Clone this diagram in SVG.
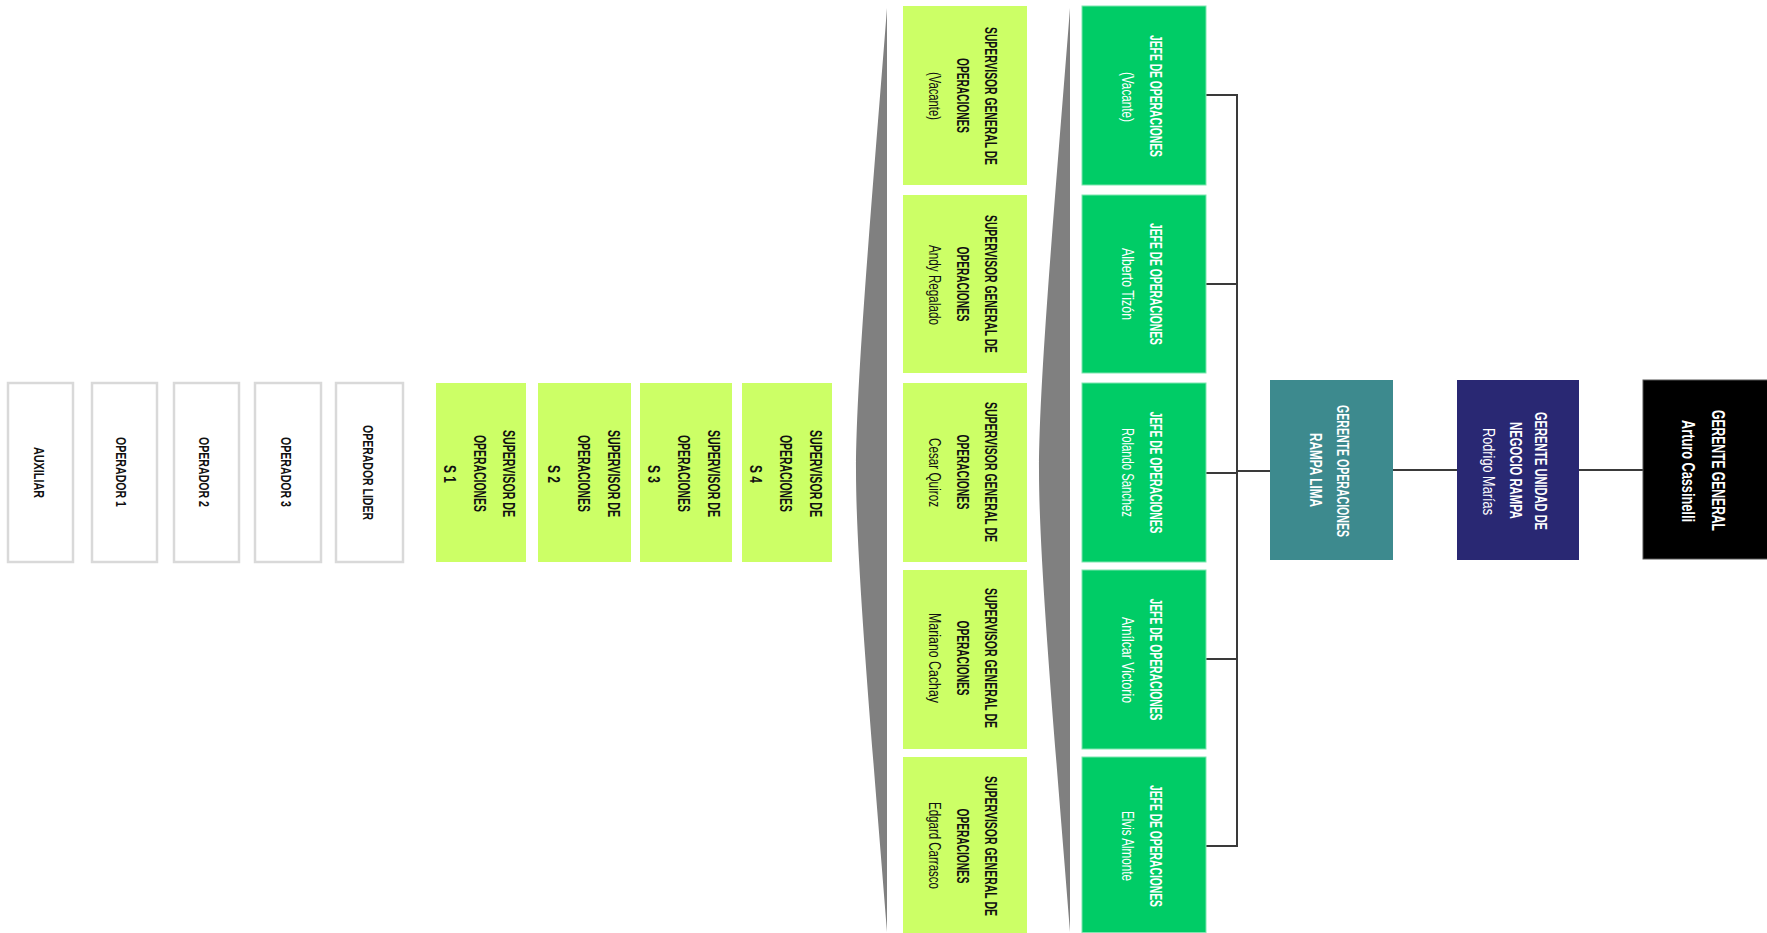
<svg xmlns="http://www.w3.org/2000/svg" width="1767" height="933" viewBox="0 0 1767 933">
<style>
  text { font-family: "Liberation Sans", Arial, sans-serif; text-anchor: middle; dominant-baseline: central; }
  .op rect { fill: #ffffff; stroke: #d9d9d9; stroke-width: 2.5; }
  .op text { fill: #111111; font-weight: bold; font-size: 15px; }
  .lg rect { fill: #ccff66; }
  .lg text { fill: #111111; font-size: 16px; }
  .gr rect { fill: #00cc66; stroke: #7fe6b0; stroke-width: 1; }
  .gr text { fill: #ffffff; font-size: 16px; }
  .tl rect { fill: #3d8a8e; }
  .nv rect { fill: #292873; }
  .bk rect { fill: #000000; stroke: #555555; stroke-width: 1; }
  .tl text, .nv text, .bk text { fill: #ffffff; font-size: 16px; }
  .b { font-weight: bold; }
  .wedge { fill: #808080; }
  .conn path { fill: none; stroke: #3a3a3a; stroke-width: 2; }
</style>
<rect x="0" y="0" width="1767" height="933" fill="#ffffff"/>

<g id="wedges">
  <path class="wedge" d="M887 8 C872 200 856 380 856 471 C856 562 872 742 887 932 Z"/>
  <path class="wedge" d="M1070 8 C1055 200 1039 380 1039 471 C1039 562 1055 742 1070 932 Z"/>
</g>

<g id="connectors" class="conn">
  <path d="M1206 95 H1237"/>
  <path d="M1206 284 H1237"/>
  <path d="M1206 473 H1237"/>
  <path d="M1206 659 H1237"/>
  <path d="M1206 846 H1237"/>
  <path d="M1237 94 V847" stroke-width="2.5"/>
  <path d="M1237 471 H1271"/>
  <path d="M1393 470 H1457"/>
  <path d="M1579 470 H1643"/>
</g>

<!-- Operators -->
<g id="auxiliar" class="op">
  <rect x="8" y="383" width="65" height="179"/>
  <text transform="translate(39,472.5) rotate(90)" textLength="51" lengthAdjust="spacingAndGlyphs">AUXILIAR</text>
</g>
<g id="operador1" class="op">
  <rect x="92" y="383" width="65" height="179"/>
  <text transform="translate(121,472) rotate(90)" textLength="70" lengthAdjust="spacingAndGlyphs">OPERADOR 1</text>
</g>
<g id="operador2" class="op">
  <rect x="174" y="383" width="65" height="179"/>
  <text transform="translate(204,472) rotate(90)" textLength="70" lengthAdjust="spacingAndGlyphs">OPERADOR 2</text>
</g>
<g id="operador3" class="op">
  <rect x="255" y="383" width="66" height="179"/>
  <text transform="translate(286,472) rotate(90)" textLength="70" lengthAdjust="spacingAndGlyphs">OPERADOR 3</text>
</g>
<g id="operador-lider" class="op">
  <rect x="336" y="383" width="67" height="179"/>
  <text transform="translate(368,472.5) rotate(90)" textLength="95" lengthAdjust="spacingAndGlyphs">OPERADOR LIDER</text>
</g>

<!-- Supervisores S -->
<g id="sup-s1" class="lg">
  <rect x="436" y="383" width="90" height="179"/>
  <text class="b" transform="translate(508,473.5) rotate(90)" textLength="87" lengthAdjust="spacingAndGlyphs">SUPERVISOR DE</text>
  <text class="b" transform="translate(479,473.5) rotate(90)" textLength="77" lengthAdjust="spacingAndGlyphs">OPERACIONES</text>
  <text class="b" transform="translate(449,474) rotate(90)" textLength="18" lengthAdjust="spacingAndGlyphs">S 1</text>
</g>
<g id="sup-s2" class="lg">
  <rect x="538" y="383" width="93" height="179"/>
  <text class="b" transform="translate(613,473.5) rotate(90)" textLength="87" lengthAdjust="spacingAndGlyphs">SUPERVISOR DE</text>
  <text class="b" transform="translate(583,473.5) rotate(90)" textLength="77" lengthAdjust="spacingAndGlyphs">OPERACIONES</text>
  <text class="b" transform="translate(553,474) rotate(90)" textLength="18" lengthAdjust="spacingAndGlyphs">S 2</text>
</g>
<g id="sup-s3" class="lg">
  <rect x="640" y="383" width="92" height="179"/>
  <text class="b" transform="translate(713,473.5) rotate(90)" textLength="87" lengthAdjust="spacingAndGlyphs">SUPERVISOR DE</text>
  <text class="b" transform="translate(683,473.5) rotate(90)" textLength="77" lengthAdjust="spacingAndGlyphs">OPERACIONES</text>
  <text class="b" transform="translate(653,474) rotate(90)" textLength="18" lengthAdjust="spacingAndGlyphs">S 3</text>
</g>
<g id="sup-s4" class="lg">
  <rect x="742" y="383" width="90" height="179"/>
  <text class="b" transform="translate(815,473.5) rotate(90)" textLength="87" lengthAdjust="spacingAndGlyphs">SUPERVISOR DE</text>
  <text class="b" transform="translate(785,473.5) rotate(90)" textLength="77" lengthAdjust="spacingAndGlyphs">OPERACIONES</text>
  <text class="b" transform="translate(755,474) rotate(90)" textLength="18" lengthAdjust="spacingAndGlyphs">S 4</text>
</g>

<!-- Supervisores generales -->
<g id="sg1" class="lg">
  <rect x="903" y="6" width="124" height="179"/>
  <text class="b" transform="translate(990,96) rotate(90)" textLength="138" lengthAdjust="spacingAndGlyphs">SUPERVISOR GENERAL DE</text>
  <text class="b" transform="translate(962,95.5) rotate(90)" textLength="75" lengthAdjust="spacingAndGlyphs">OPERACIONES</text>
  <text transform="translate(934,96) rotate(90)" textLength="48" lengthAdjust="spacingAndGlyphs">(Vacante)</text>
</g>
<g id="sg2" class="lg">
  <rect x="903" y="195" width="124" height="178"/>
  <text class="b" transform="translate(990,284) rotate(90)" textLength="138" lengthAdjust="spacingAndGlyphs">SUPERVISOR GENERAL DE</text>
  <text class="b" transform="translate(962,284) rotate(90)" textLength="75" lengthAdjust="spacingAndGlyphs">OPERACIONES</text>
  <text transform="translate(934,285) rotate(90)" textLength="80" lengthAdjust="spacingAndGlyphs">Andy Regalado</text>
</g>
<g id="sg3" class="lg">
  <rect x="903" y="383" width="124" height="179"/>
  <text class="b" transform="translate(990,472) rotate(90)" textLength="140" lengthAdjust="spacingAndGlyphs">SUPERVISOR GENERAL DE</text>
  <text class="b" transform="translate(962,472) rotate(90)" textLength="75" lengthAdjust="spacingAndGlyphs">OPERACIONES</text>
  <text transform="translate(934,472.5) rotate(90)" textLength="69" lengthAdjust="spacingAndGlyphs">Cesar Quiroz</text>
</g>
<g id="sg4" class="lg">
  <rect x="903" y="570" width="124" height="179"/>
  <text class="b" transform="translate(990,658) rotate(90)" textLength="140" lengthAdjust="spacingAndGlyphs">SUPERVISOR GENERAL DE</text>
  <text class="b" transform="translate(962,658) rotate(90)" textLength="75" lengthAdjust="spacingAndGlyphs">OPERACIONES</text>
  <text transform="translate(934,658) rotate(90)" textLength="90" lengthAdjust="spacingAndGlyphs">Mariano Cachay</text>
</g>
<g id="sg5" class="lg">
  <rect x="903" y="757" width="124" height="176"/>
  <text class="b" transform="translate(990,846) rotate(90)" textLength="140" lengthAdjust="spacingAndGlyphs">SUPERVISOR GENERAL DE</text>
  <text class="b" transform="translate(962,846) rotate(90)" textLength="75" lengthAdjust="spacingAndGlyphs">OPERACIONES</text>
  <text transform="translate(934,845.5) rotate(90)" textLength="87" lengthAdjust="spacingAndGlyphs">Edgard Carrasco</text>
</g>

<!-- Jefes de operaciones -->
<g id="jefe1" class="gr">
  <rect x="1082" y="6" width="124" height="179"/>
  <text class="b" transform="translate(1155,96) rotate(90)" textLength="122" lengthAdjust="spacingAndGlyphs">JEFE DE OPERACIONES</text>
  <text transform="translate(1127,97) rotate(90)" textLength="50" lengthAdjust="spacingAndGlyphs">(Vacante)</text>
</g>
<g id="jefe2" class="gr">
  <rect x="1082" y="195" width="124" height="178"/>
  <text class="b" transform="translate(1155,284) rotate(90)" textLength="122" lengthAdjust="spacingAndGlyphs">JEFE DE OPERACIONES</text>
  <text transform="translate(1127,284) rotate(90)" textLength="72" lengthAdjust="spacingAndGlyphs">Alberto Tizón</text>
</g>
<g id="jefe3" class="gr">
  <rect x="1082" y="383" width="124" height="179"/>
  <text class="b" transform="translate(1155,472.5) rotate(90)" textLength="122" lengthAdjust="spacingAndGlyphs">JEFE DE OPERACIONES</text>
  <text transform="translate(1127,472.5) rotate(90)" textLength="89" lengthAdjust="spacingAndGlyphs">Rolando Sanchez</text>
</g>
<g id="jefe4" class="gr">
  <rect x="1082" y="570" width="124" height="179"/>
  <text class="b" transform="translate(1155,659.5) rotate(90)" textLength="122" lengthAdjust="spacingAndGlyphs">JEFE DE OPERACIONES</text>
  <text transform="translate(1127,660) rotate(90)" textLength="86" lengthAdjust="spacingAndGlyphs">Amílcar Victorio</text>
</g>
<g id="jefe5" class="gr">
  <rect x="1082" y="757" width="124" height="175.5"/>
  <text class="b" transform="translate(1155,846) rotate(90)" textLength="122" lengthAdjust="spacingAndGlyphs">JEFE DE OPERACIONES</text>
  <text transform="translate(1127,846) rotate(90)" textLength="70" lengthAdjust="spacingAndGlyphs">Elvis Almonte</text>
</g>

<!-- Gerencias -->
<g id="gerente-operaciones" class="tl">
  <rect x="1270" y="380" width="123" height="180"/>
  <text class="b" transform="translate(1342,471) rotate(90)" textLength="132" lengthAdjust="spacingAndGlyphs">GERENTE OPERACIONES</text>
  <text class="b" transform="translate(1315,470) rotate(90)" textLength="74" lengthAdjust="spacingAndGlyphs">RAMPA LIMA</text>
</g>
<g id="gerente-unidad" class="nv">
  <rect x="1457" y="380" width="122" height="180"/>
  <text class="b" transform="translate(1540,471) rotate(90)" textLength="118" lengthAdjust="spacingAndGlyphs">GERENTE UNIDAD DE</text>
  <text class="b" transform="translate(1515,470.5) rotate(90)" textLength="97" lengthAdjust="spacingAndGlyphs">NEGOCIO RAMPA</text>
  <text transform="translate(1488,471.5) rotate(90)" textLength="87" lengthAdjust="spacingAndGlyphs">Rodrigo Marías</text>
</g>
<g id="gerente-general" class="bk">
  <rect x="1643" y="380" width="130" height="179"/>
  <text class="b" transform="translate(1718,470.5) rotate(90)" textLength="121" lengthAdjust="spacingAndGlyphs" style="font-size:19px">GERENTE GENERAL</text>
  <text class="b" transform="translate(1688,471) rotate(90)" textLength="102" lengthAdjust="spacingAndGlyphs" style="font-size:18px">Arturo Cassinelli</text>
</g>
</svg>
